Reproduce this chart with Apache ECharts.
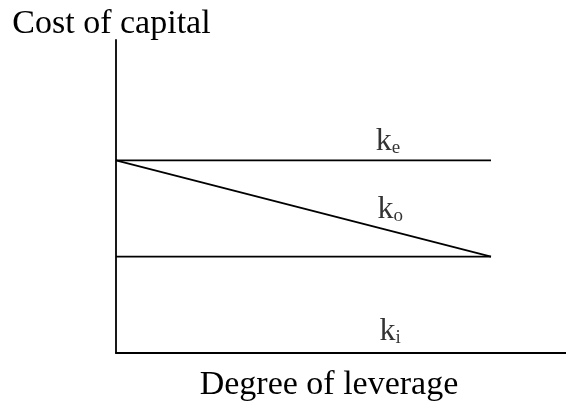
<!DOCTYPE html>
<html>
<head>
<meta charset="utf-8">
<script src="https://cdn.jsdelivr.net/npm/echarts@6/dist/echarts.min.js"></script>
<style>
  html, body { margin: 0; padding: 0; background: #fff; }
  #chart { width: 566px; height: 403px; }
</style>
</head>
<body>
<div id="chart"></div>
<script>
// leverage points (x) and the three cost lines
const leverage = [0, 10];
const costEquity = [8, 8];      // k_e
const costOverall = [8, 4];     // k_o
const costDebt = [4, 4];        // lower line

// where the subscript labels sit
const labelNames = ['e', 'o', 'i'];
const labelPos = [[7.25, 8.73], [7.31, 5.91], [7.31, 0.84]];

const serif = 'Liberation Serif';

const pair = (xs, ys) => xs.map((x, i) => [x, ys[i]]);

const lineSeries = (name, data) => ({
    name: name,
    type: 'line',
    data: data,
    symbol: 'none',
    silent: true,
    lineStyle: { color: '#000', width: 1.8 }
});

const chart = echarts.init(document.getElementById('chart'));
chart.setOption({
    animation: false,
    backgroundColor: '#fff',
    grid: { left: 116, right: 0, top: 40, bottom: 50, outerBoundsMode: 'none' },
    xAxis: {
        type: 'value',
        min: 0,
        max: 12,
        name: 'Degree of leverage',
        nameLocation: 'middle',
        nameGap: 15,
        nameTextStyle: { fontFamily: serif, fontSize: 34, lineHeight: 34, color: '#000', padding: [0, 24, 0, 0] },
        axisLine: { lineStyle: { color: '#000', width: 1.8 } },
        axisTick: { show: false },
        axisLabel: { show: false },
        splitLine: { show: false }
    },
    yAxis: {
        type: 'value',
        min: 0,
        max: 13,
        name: 'Cost of capital',
        nameLocation: 'end',
        nameGap: -1,
        nameTextStyle: { fontFamily: serif, fontSize: 34, lineHeight: 34, color: '#000', padding: [0, 9, 0, 0] },
        axisLine: { show: true, lineStyle: { color: '#000', width: 1.8 } },
        axisTick: { show: false },
        axisLabel: { show: false },
        splitLine: { show: false }
    },
    series: [
        lineSeries('ke', pair(leverage, costEquity)),
        lineSeries('ko', pair(leverage, costOverall)),
        lineSeries('ki', pair(leverage, costDebt)),
        {
            type: 'scatter',
            symbolSize: 0,
            silent: true,
            data: labelPos.map((p, i) => ({ value: p, sub: labelNames[i] })),
            label: {
                show: true,
                position: 'inside',
                formatter: p => '{k|k}{s|' + p.data.sub + '}',
                rich: {
                    k: { fontFamily: serif, fontSize: 32, lineHeight: 30, color: '#000', verticalAlign: 'bottom' },
                    s: { fontFamily: serif, fontSize: 19, lineHeight: 18, color: '#000', verticalAlign: 'bottom' }
                }
            }
        }
    ]
});
</script>
</body>
</html>
